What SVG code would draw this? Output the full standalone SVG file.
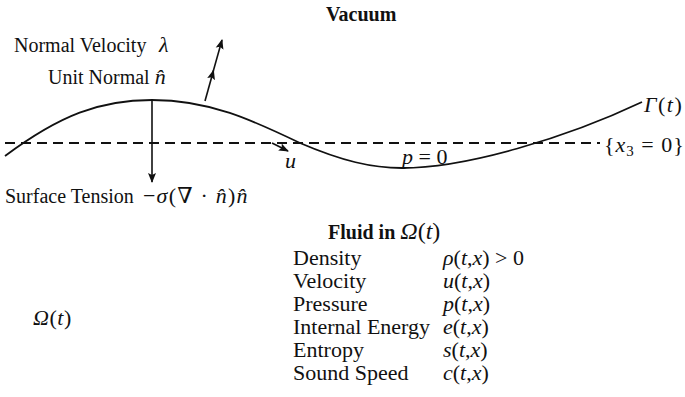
<svg xmlns="http://www.w3.org/2000/svg" width="685" height="397" viewBox="0 0 685 397" font-family="'Liberation Serif','Times New Roman','DejaVu Serif',serif">
<style>
text{font-family:"Liberation Serif","Times New Roman","DejaVu Serif",serif;font-size:20px;fill:#111}
.b{font-weight:bold}
.i{font-style:italic}
.m{font-size:22px}
.t{font-size:22px}
.ln{fill:none;stroke:#111;stroke-width:1.8}
.ar{fill:none;stroke:#111;stroke-width:1.6;marker-end:url(#ah)}
</style>
<defs>
<marker id="ah" viewBox="0 0 10 10" refX="9" refY="5" markerWidth="10" markerHeight="10" markerUnits="userSpaceOnUse" orient="auto">
<path d="M0,1 L10,5 L0,9 L2,5 Z" fill="#111"/>
</marker>
</defs>
<rect width="685" height="397" fill="#fff"/>
<g id="connectors">
<path class="ln" d="M5,143 H600" stroke-dasharray="10,6" stroke-width="1.6"/>
<path class="ln" d="M5,156 C60,115 100,100 152,100 C210,100 252,120 300,143 C342,161 372,168 402,168 C466,168 566,138 642,102"/>
<path class="ar" d="M205,101 L213.5,70.5"/>
<path class="ar" d="M213,72 L222,40"/>
<path class="ar" d="M152,100 V182"/>
<path class="ar" d="M272,143 L288,151"/>
</g>
<g id="vacuum"><text class="b" x="326" y="21">Vacuum</text></g>
<g id="normal-velocity"><text x="14" y="52">Normal Velocity <tspan class="i m" x="159">λ</tspan></text></g>
<g id="unit-normal"><text x="48" y="84">Unit Normal <tspan class="i m">n̂</tspan></text></g>
<g id="surface-tension"><text x="5" y="203">Surface Tension <tspan class="m" x="143" letter-spacing="1.2">−<tspan class="i">σ</tspan>(∇ · <tspan class="i">n̂</tspan>)<tspan class="i">n̂</tspan></tspan></text></g>
<g id="u-label"><text class="i m" x="285" y="168">u</text></g>
<g id="p-label"><text class="m" x="402" y="164"><tspan class="i">p</tspan> = 0</text></g>
<g id="x3-label"><text class="m" x="604" y="152" letter-spacing="1">{<tspan class="i">x</tspan><tspan font-size="15" dy="4">3</tspan><tspan dy="-4"> = 0}</tspan></text></g>
<g id="gamma-label"><text class="m" x="644" y="112" letter-spacing="1.5"><tspan class="i">Γ</tspan>(<tspan class="i">t</tspan>)</text></g>
<g id="omega-label"><text class="m" x="33" y="325" letter-spacing="0.5"><tspan class="i">Ω</tspan>(<tspan class="i">t</tspan>)</text></g>
<g id="fluid-table">
<text x="328" y="239" font-size="23"><tspan class="b">Fluid in </tspan><tspan class="i" font-size="24">Ω</tspan><tspan font-size="24">(</tspan><tspan class="i" font-size="24">t</tspan><tspan font-size="24">)</tspan></text>
<text class="t" x="293" y="265">Density</text>
<text class="t" x="293" y="288">Velocity</text>
<text class="t" x="293" y="311">Pressure</text>
<text class="t" x="293" y="334">Internal Energy</text>
<text class="t" x="293" y="357">Entropy</text>
<text class="t" x="293" y="380">Sound Speed</text>
<text class="t" x="443" y="265"><tspan class="i">ρ</tspan>(<tspan class="i">t</tspan>,<tspan class="i">x</tspan>) &gt; 0</text>
<text class="t" x="443" y="288"><tspan class="i">u</tspan>(<tspan class="i">t</tspan>,<tspan class="i">x</tspan>)</text>
<text class="t" x="443" y="311"><tspan class="i">p</tspan>(<tspan class="i">t</tspan>,<tspan class="i">x</tspan>)</text>
<text class="t" x="443" y="334"><tspan class="i">e</tspan>(<tspan class="i">t</tspan>,<tspan class="i">x</tspan>)</text>
<text class="t" x="443" y="357"><tspan class="i">s</tspan>(<tspan class="i">t</tspan>,<tspan class="i">x</tspan>)</text>
<text class="t" x="443" y="380"><tspan class="i">c</tspan>(<tspan class="i">t</tspan>,<tspan class="i">x</tspan>)</text>
</g>
</svg>
